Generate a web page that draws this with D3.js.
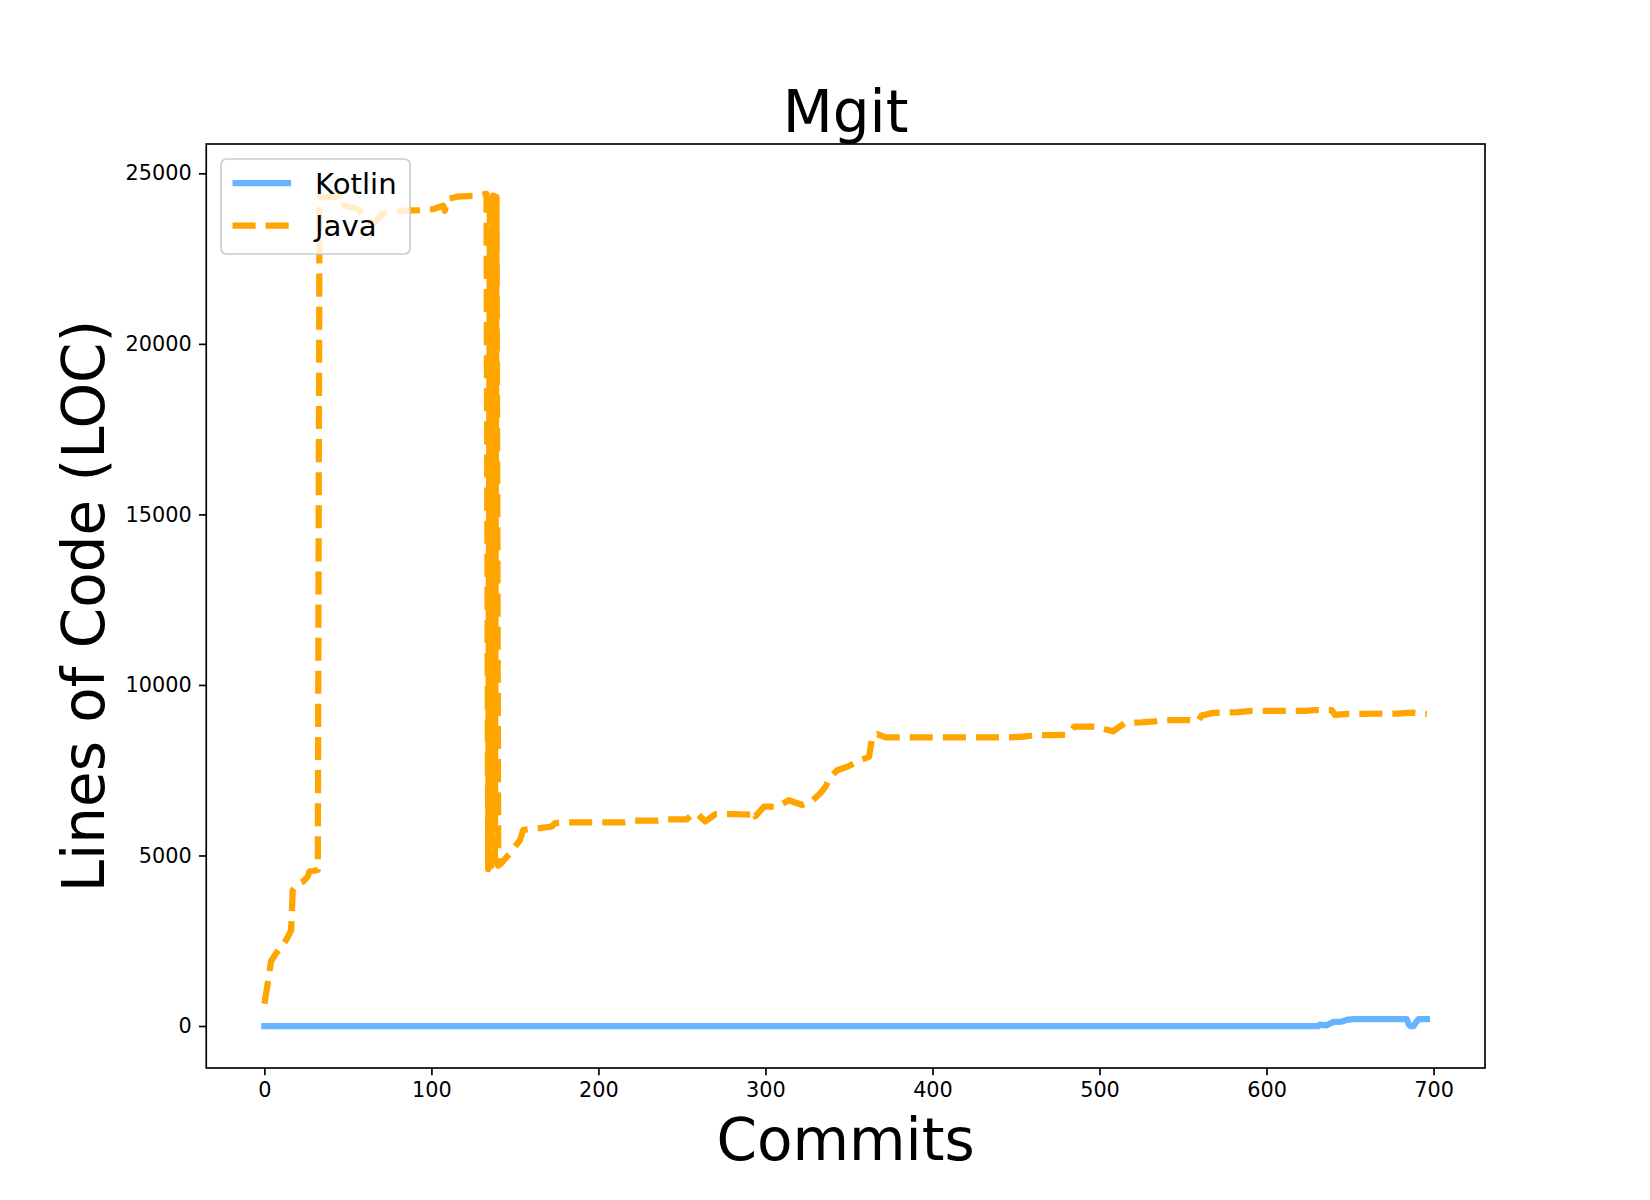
<!DOCTYPE html>
<html>
<head>
<meta charset="utf-8">
<script src="https://cdn.jsdelivr.net/npm/d3@7"></script>
<style>
  body { margin: 0; background: #fff; }
  text { font-family: "DejaVu Sans", sans-serif; }
</style>
</head>
<body>
<script>
var w = 1650;
var h = 1200;

// commit index / lines of code
var javaCommits = [0, 2, 4, 7, 13, 16, 17, 19, 23, 26, 27, 32, 33, 42, 47, 48, 56, 62, 66, 70, 76, 82, 93, 101, 107, 108, 110, 116, 126,
    133, 134, 135, 136, 137, 138, 139, 140, 142, 147, 153, 155, 165, 172, 174, 181, 215, 221, 235, 241, 253, 256, 259, 264, 270, 282,
    291, 293, 294, 299, 307, 314, 322, 328, 333, 336, 339, 343, 349, 357, 362, 364, 367, 372, 443, 453, 463, 481, 485, 497, 508, 515,
    525, 533, 539, 553, 559, 561, 568, 583, 591, 624, 629, 639, 641, 649, 679, 687, 696];
var javaLoc = [650, 1250, 1900, 2130, 2520, 2800, 3990, 4130, 4230, 4380, 4530, 4575, 24300, 24300, 24400, 24050, 23950, 23600, 23550,
    23800, 23850, 23900, 23920, 23950, 24050, 23900, 24250, 24320, 24340,
    24400, 4600, 24400, 4700, 24350, 4650, 24300, 4700, 4780, 5060, 5450, 5750, 5800, 5850, 5950, 5970, 5970, 6020, 6020, 6060, 6060,
    6200, 6230, 6000, 6210, 6215, 6200, 6300, 6150, 6430, 6430, 6620, 6480, 6600, 6830, 7020, 7310, 7500, 7600, 7800, 7890, 8480, 8560,
    8460, 8460, 8480, 8530, 8540, 8780, 8780, 8640, 8880, 8900, 8930, 8970, 8970, 8930, 9100, 9180, 9200, 9240, 9240, 9265, 9265,
    9120, 9150, 9160, 9190, 9150];

var kotlinCommits = [0, 631, 632, 636, 640, 645, 649, 652, 684, 685, 686, 688, 689, 691, 696];
var kotlinLoc = [0, 0, 40, 20, 120, 130, 190, 200, 200, 60, 0, 0, 80, 200, 200];

var xTicks = [0, 100, 200, 300, 400, 500, 600, 700];
var yTicks = [0, 5000, 10000, 15000, 20000, 25000];

var seriesNames = ["Kotlin", "Java"];
var seriesColors = ["#66b3ff", "orange"];

var axLeft = 206.25, axRight = 1485, axTop = 144, axBottom = 1068;

var svg = d3.select("body")
    .append("svg")
    .attr("width", w)
    .attr("height", h);

var x = d3.scaleLinear().domain([-34.8, 730.8]).range([axLeft, axRight]);
var y = d3.scaleLinear().domain([-1231, 25860]).range([axBottom, axTop]);

svg.append("defs").append("clipPath").attr("id", "clip")
    .append("rect")
    .attr("x", axLeft).attr("y", axTop)
    .attr("width", axRight - axLeft).attr("height", axBottom - axTop);

var line = d3.line()
    .x(function(d) { return x(d[0]); })
    .y(function(d) { return y(d[1]); });

var kotlin = d3.zip(kotlinCommits, kotlinLoc);
var java = d3.zip(javaCommits, javaLoc);

var plot = svg.append("g").attr("clip-path", "url(#clip)");

plot.append("path")
    .attr("d", line(kotlin))
    .attr("fill", "none")
    .attr("stroke", seriesColors[0])
    .attr("stroke-width", 6.25)
    .attr("stroke-linecap", "square")
    .attr("stroke-linejoin", "round");

plot.append("path")
    .attr("d", line(java))
    .attr("fill", "none")
    .attr("stroke", seriesColors[1])
    .attr("stroke-width", 6.25)
    .attr("stroke-dasharray", "23.1,10")
    .attr("stroke-linejoin", "round");

// axes
var xAxis = svg.append("g")
    .attr("transform", "translate(0," + axBottom + ")")
    .call(d3.axisBottom(x).tickValues(xTicks).tickSize(7.3).tickPadding(7.3).tickFormat(d3.format("d")));
var yAxis = svg.append("g")
    .attr("transform", "translate(" + axLeft + ",0)")
    .call(d3.axisLeft(y).tickValues(yTicks).tickSize(7.3).tickPadding(7.3).tickFormat(d3.format("d")));

[xAxis, yAxis].forEach(function(a) {
    a.select(".domain").remove();
    a.selectAll(".tick line").attr("stroke", "#000").attr("stroke-width", 1.67);
    a.selectAll(".tick text")
        .attr("fill", "#000")
        .style("font-size", "20.8px")
        .style("font-family", "DejaVu Sans");
});

svg.append("rect")
    .attr("x", axLeft).attr("y", axTop)
    .attr("width", axRight - axLeft).attr("height", axBottom - axTop)
    .attr("fill", "none")
    .attr("stroke", "#000")
    .attr("stroke-width", 1.67);

// titles
svg.append("text")
    .attr("x", (axLeft + axRight) / 2)
    .attr("y", 131.5)
    .attr("text-anchor", "middle")
    .style("font-size", "58px")
    .text("Mgit");

svg.append("text")
    .attr("x", (axLeft + axRight) / 2)
    .attr("y", 1160)
    .attr("text-anchor", "middle")
    .style("font-size", "58px")
    .text("Commits");

svg.append("text")
    .attr("transform", "translate(104," + ((axTop + axBottom) / 2) + ") rotate(-90)")
    .attr("text-anchor", "middle")
    .style("font-size", "58px")
    .text("Lines of Code (LOC)");

// legend
var lg = svg.append("g");
lg.append("rect")
    .attr("x", 221).attr("y", 159)
    .attr("width", 189).attr("height", 95)
    .attr("rx", 5.8)
    .attr("fill", "#fff")
    .attr("fill-opacity", 0.8)
    .attr("stroke", "#cccccc")
    .attr("stroke-width", 1.67);

seriesNames.forEach(function(name, i) {
    var cy = 183 + i * 42.5;
    lg.append("line")
        .attr("x1", 232.5).attr("x2", 291)
        .attr("y1", cy).attr("y2", cy)
        .attr("stroke", seriesColors[i])
        .attr("stroke-width", 6.25)
        .attr("stroke-dasharray", i === 1 ? "23.1,10" : null);
    lg.append("text")
        .attr("x", 315)
        .attr("y", cy + 10.5)
        .style("font-size", "29.2px")
        .text(name);
});
</script>
</body>
</html>
